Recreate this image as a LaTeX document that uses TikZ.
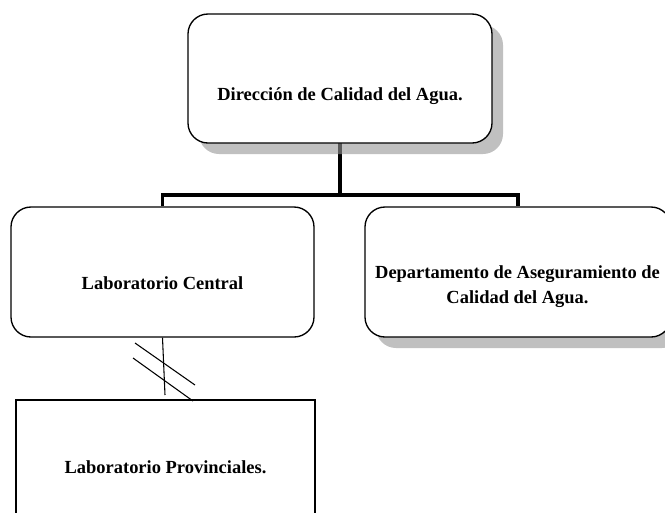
\documentclass[tikz,border=0pt]{standalone}
\usepackage{fontspec}
\setmainfont{Liberation Serif}
\usetikzlibrary{shadows,backgrounds}
\tikzset{
  orgbox/.style={draw=black, line width=1pt, fill=white, rounded corners=15pt, inner sep=0pt},
  shadowed/.style={drop shadow={shadow xshift=8.25pt, shadow yshift=-8.25pt, fill=black!41, opacity=0.6}},
  plainbox/.style={draw=black, line width=1pt, fill=white, inner sep=0pt},
  lbl/.style={font=\bfseries\fontsize{13.85}{18.75}\selectfont, align=center, inner sep=0pt},
  conn/.style={line width=2.4pt, line cap=rect},
  thin/.style={line width=0.8pt}
}
\begin{document}
\begin{tikzpicture}[x=0.75pt, y=-0.75pt]
\useasboundingbox (0,0) rectangle (665,512);
\clip (0,0) rectangle (665,512);
% boxes
\node[orgbox, shadowed, minimum width=304*0.75pt, minimum height=129*0.75pt] (top) at (340,78.5) {};
\node[orgbox, minimum width=303*0.75pt, minimum height=130*0.75pt] (left) at (162.5,272) {};
\node[orgbox, shadowed, minimum width=306*0.75pt, minimum height=130*0.75pt] (right) at (518,272) {};
\node[plainbox, minimum width=299*0.75pt, minimum height=130*0.75pt] (bot) at (165.5,465) {};
% labels
\node[lbl] (ttop) at (340,96) {Dirección de Calidad del Agua.};
\node[lbl] (tleft) at (162.5,283) {Laboratorio Central};
\node[lbl] (tright) at (517.5,286.5) {Departamento de Aseguramiento de\\Calidad del Agua.};
\node[lbl] (tbot) at (165.5,467) {Laboratorio Provinciales.};
% connectors
\coordinate (bar) at (340,195);
\coordinate (vend) at (165,395);
\coordinate (d1a) at (135,343);
\coordinate (d1b) at (195,385);
\coordinate (d2a) at (133,358);
\coordinate (d2b) at (193,401);
\begin{pgfonlayer}{background}
\draw[conn] (top.south) -- (bar);
\draw[conn, line cap=butt] (left.north) -- (left.north |- bar) -- (right.north |- bar) -- (right.north);
\end{pgfonlayer}
\draw[thin] (left.south) -- (vend);
\draw[thin] (d1a) -- (d1b);
\draw[thin] (d2a) -- (d2b);
\end{tikzpicture}
\end{document}
